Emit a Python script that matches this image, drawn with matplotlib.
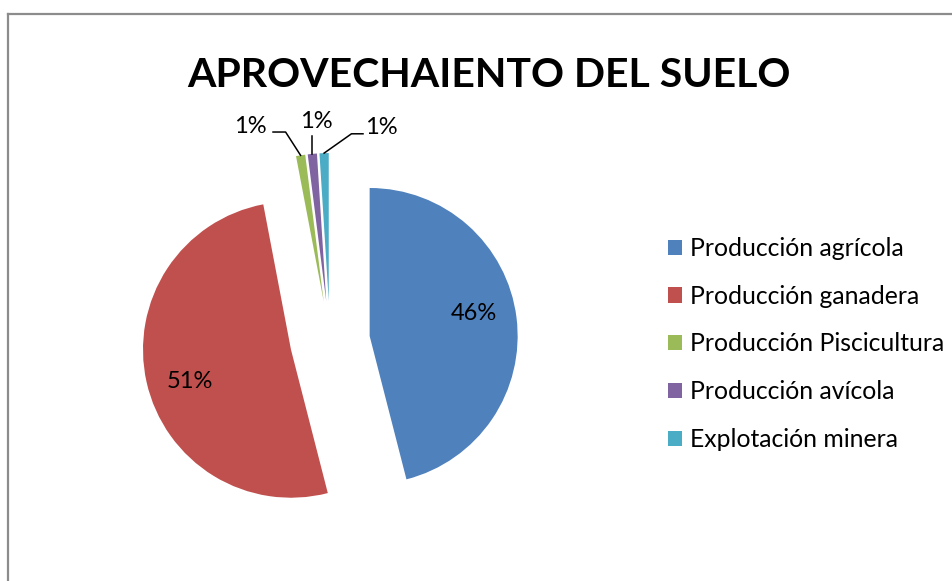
import matplotlib.pyplot as plt
import numpy as np
from matplotlib.lines import Line2D

plt.rcParams['font.family'] = ['Lato', 'DejaVu Sans']

# data
categorias = ['Producción agrícola', 'Producción ganadera', 'Producción Piscicultura',
              'Producción avícola', 'Explotación minera']
porcentajes = [46, 51, 1, 1, 1]
colores = ['#4F81BD', '#C0504D', '#9BBB59', '#8064A2', '#4BACC6']
titulo = 'APROVECHAIENTO DEL SUELO'

W, H = 953, 581
fig = plt.figure(figsize=(W / 100, H / 100), dpi=100)

# pie centre and radius in pixels
cx, cy, r_px = 330, 341, 148
half = 200
ax = fig.add_axes([(cx - half) / W, (H - cy - half) / H, 2 * half / W, 2 * half / H])

explode = [0.27] * len(porcentajes)
wedges, _ = ax.pie(porcentajes, colors=colores, startangle=90, counterclock=False,
                   explode=explode, radius=1.0)
lim = half / r_px
ax.set_xlim(-lim, lim)
ax.set_ylim(-lim, lim)
ax.set_aspect('equal')
ax.axis('off')

# percentage labels inside the big slices
for w, p in zip(wedges, porcentajes):
    ang = np.deg2rad((w.theta1 + w.theta2) / 2 + 5)
    c = np.array(w.center)
    if p > 10:
        pos = c + 0.72 * np.array([np.cos(ang), np.sin(ang)])
        ax.text(pos[0], pos[1], f'{p}%', ha='center', va='center', fontsize=17)

# small slices: labels outside with leader lines
small = [i for i, p in enumerate(porcentajes) if p < 10]
label_off = [(-0.54, 1.447), (-0.095, 1.486), (0.345, 1.44)]
for k, i in enumerate(small):
    w = wedges[i]
    ang = np.deg2rad((w.theta1 + w.theta2) / 2)
    c = np.array(w.center)
    tip = c + 1.0 * np.array([np.cos(ang), np.sin(ang)])
    lx, ly = label_off[k]
    if k == 0:
        ax.plot([tip[0], lx + 0.24, lx + 0.155], [tip[1], ly - 0.035, ly - 0.035],
                color='black', lw=1.1, clip_on=False)
    elif k == 1:
        ax.plot([tip[0], tip[0]], [tip[1], ly - 0.10], color='black', lw=1.1, clip_on=False)
    else:
        ax.plot([tip[0], lx - 0.2, lx - 0.122], [tip[1], ly - 0.04, ly - 0.04],
                color='black', lw=1.1, clip_on=False)
    ax.text(lx, ly, f'{porcentajes[i]}%', ha='center', va='center', fontsize=17)

fig.text(489 / W, 1 - 87 / H, titulo, ha='center', va='baseline',
         fontsize=29.5, fontweight='bold')

fig.legend(wedges, categorias, loc='upper left', bbox_to_anchor=(668 / W, 1 - 237 / H),
           frameon=False, fontsize=17.8, handlelength=0.57, handleheight=0.57,
           handletextpad=0.33, labelspacing=1.0, borderpad=0, borderaxespad=0)

# chart border (top and left visible)
gray = '#8c8c8c'
fig.add_artist(Line2D([8 / W, 1], [1 - 14 / H, 1 - 14 / H], color=gray, lw=1.6))
fig.add_artist(Line2D([8 / W, 8 / W], [0, 1 - 14 / H], color=gray, lw=1.6))

fig.savefig('out.png', dpi=100)
